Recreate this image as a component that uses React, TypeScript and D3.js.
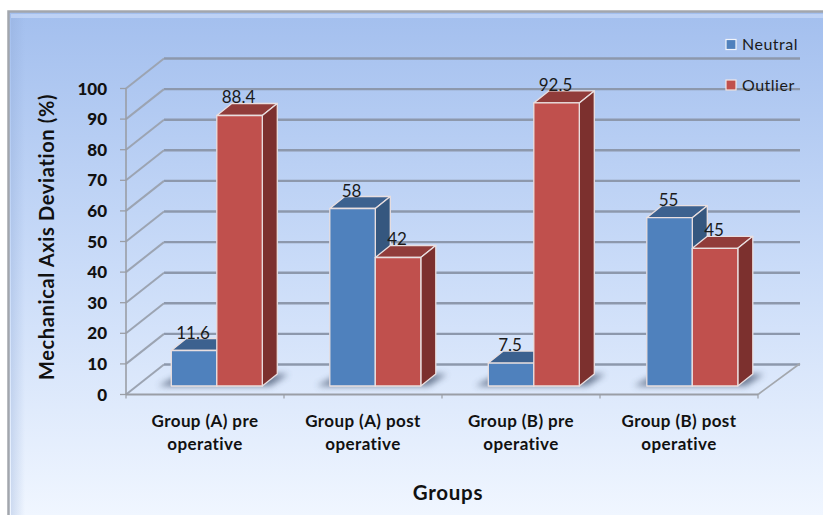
import React from "react";
import * as d3 from "d3";

const categories = ["Group (A) pre|operative", "Group (A) post|operative", "Group (B) pre|operative", "Group (B) post|operative"];
const neutralValues = [11.6, 58, 7.5, 55];
const outlierValues = [88.4, 42, 92.5, 45];
const neutralLabels = ["11.6", "58", "7.5", "55"];
const outlierLabels = ["88.4", "42", "92.5", "45"];
const yTicks = [0, 10, 20, 30, 40, 50, 60, 70, 80, 90, 100];

const font = "Lato, 'Open Sans', sans-serif";
const W = 823, H = 515;
const axisLeft = 126, axisRight = 758, axisBase = 394.5, axisTop = 88.5;
const dx = 38, dy = -30;
const barDx = 15, barDy = -12;
const barBase = 386, barWidth = 45.5, barInset = 45.5;

const y = d3.scaleLinear().domain([0, 100]).range([axisBase, axisTop]);
const barH = d3.scaleLinear().domain([0, 100]).range([0, 306]);
const x = d3.scaleBand<string>().domain(categories).range([axisLeft, axisRight]);
const xBars = d3.scaleBand<string>().domain(categories).range([axisLeft - 0.2, axisRight + 1.8]);

const poly = (pts: [number, number][]) => d3.line()(pts) + "Z";

function Bar({ x0, v, front, top, side }: { x0: number; v: number; front: string; top: string; side: string }) {
  const h = barH(v);
  const t = barBase - h;
  const x1 = x0 + barWidth;
  const edge = "#e9dfe0";
  return (
    <g stroke={edge} strokeWidth={1.3} strokeLinejoin="round">
      <path d={poly([[x0, t], [x0 + barDx, t + barDy], [x1 + barDx, t + barDy], [x1, t]])} fill={top} />
      <path d={poly([[x1, t], [x1 + barDx, t + barDy], [x1 + barDx, barBase + barDy], [x1, barBase]])} fill={side} />
      <rect x={x0} y={t} width={barWidth} height={h} fill={front} />
    </g>
  );
}

export default function App() {
  return (
    <svg width={W} height={H} viewBox={`0 0 ${W} ${H}`} style={{ position: "absolute", left: 0, top: 0, display: "block" }} fontFamily={font}>
      <defs>
        <linearGradient id="bg" x1="0" y1="0" x2="0" y2="1">
          <stop offset="0" stopColor="#a3bfee" />
          <stop offset="0.5" stopColor="#c9dbf8" />
          <stop offset="1" stopColor="#f0f6ff" />
        </linearGradient>
        <linearGradient id="leftEdge" x1="0" y1="0" x2="1" y2="0">
          <stop offset="0" stopColor="#8fa9d6" stopOpacity="0.35" />
          <stop offset="1" stopColor="#8fa9d6" stopOpacity="0" />
        </linearGradient>
        <filter id="blur" x="-20%" y="-100%" width="140%" height="300%"><feGaussianBlur stdDeviation="3" /></filter>
      </defs>
      <rect x={8} y={11} width={W - 8} height={H - 11} fill="url(#bg)" />
      <rect x={11} y={14} width={14} height={H - 14} fill="url(#leftEdge)" />
      <rect x={11} y={14} width={W - 11} height={4} fill="#c3d6f6" opacity={0.8} />
      <path d={`M8.5 ${H}V11.5H${W}`} fill="none" stroke="#a2a6ad" strokeWidth={2.5} />

      {/* back wall gridlines */}
      <g>
        {yTicks.map((t) => (
          <line key={t} x1={axisLeft + dx} x2={800} y1={y(t) + dy} y2={y(t) + dy} stroke="#8d98ac" strokeWidth={2.4} />
        ))}
        {yTicks.map((t) => (
          <line key={t} x1={axisLeft} x2={axisLeft + dx} y1={y(t)} y2={y(t) + dy} stroke="#9ca4b2" strokeWidth={2} />
        ))}
      </g>
      {/* floor */}
      <line x1={axisRight} x2={800} y1={axisBase} y2={axisBase + dy - 1} stroke="#a3a7ad" strokeWidth={1.6} />
      <line x1={axisLeft} x2={axisRight} y1={axisBase} y2={axisBase} stroke="#9a9ea6" strokeWidth={2} />
      <line x1={axisLeft} x2={axisLeft} y1={axisTop} y2={axisBase} stroke="#9a9ea6" strokeWidth={1.6} />
      {yTicks.map((t) => (
        <line key={t} x1={axisLeft - 6} x2={axisLeft} y1={y(t)} y2={y(t)} stroke="#9a9ea6" strokeWidth={1.3} />
      ))}
      {[...categories.map((c) => x(c)!), axisRight].map((p, i) => (
        <line key={i} x1={p} x2={p} y1={axisBase} y2={axisBase + 4} stroke="#9a9ea6" strokeWidth={1.2} />
      ))}

      {categories.map((c, i) => {
        const b = xBars(c)! + barInset;
        return (
          <g key={c}>
            <path
              d={poly([[b - 13, barBase], [b + 6, barBase - 10], [b + 2 * barWidth + 26, barBase - 12], [b + 2 * barWidth + 8, barBase]])}
              fill="#41506a" opacity={0.7} filter="url(#blur)"
            />
            <Bar x0={b} v={neutralValues[i]} front="#4f81bd" top="#3c618f" side="#35577f" />
            <Bar x0={b + barWidth} v={outlierValues[i]} front="#c0504d" top="#913c3a" side="#7c302e" />
          </g>
        );
      })}

      {/* data labels */}
      <g fontSize={17} fill="#1a1a1a" textAnchor="middle">
        {categories.map((c, i) => {
          const b = xBars(c)! + barInset;
          return (
            <g key={c}>
              <text x={b + barWidth / 2 - 1} y={barBase - barH(neutralValues[i]) + barDy}>{neutralLabels[i]}</text>
              <text x={b + barWidth * 1.5 - 1} y={barBase - barH(outlierValues[i]) + barDy}>{outlierLabels[i]}</text>
            </g>
          );
        })}
      </g>

      {/* y tick labels */}
      <g fontSize={17} fontWeight={900} fill="#111" textAnchor="end">
        {yTicks.map((t) => (
          <text key={t} x={107} y={y(t) + 6}>{t}</text>
        ))}
      </g>

      {/* category labels */}
      <g fontSize={17} fontWeight={700} fill="#111" textAnchor="middle" letterSpacing={0.4}>
        {categories.map((c) => {
          const [a, b] = c.split("|");
          const cx = x(c)! + x.bandwidth() / 2;
          return (
            <g key={c}>
              <text x={cx} y={427}>{a}</text>
              <text x={cx} y={450}>{b}</text>
            </g>
          );
        })}
      </g>

      <text x={448} y={500} fontSize={20.5} fontWeight={700} fill="#111" textAnchor="middle" letterSpacing={0.7}>Groups</text>
      <text transform="translate(54,237) rotate(-90)" fontSize={20} fontWeight={700} fill="#111" textAnchor="middle" letterSpacing={0.65}>Mechanical Axis Deviation (%)</text>

      {/* legend */}
      <rect x={726} y={39.5} width={10} height={10} fill="#4f81bd" stroke="#f2f5fb" strokeWidth={1.2} />
      <text x={742} y={50} fontSize={16} fill="#1a1a1a" letterSpacing={0.5}>Neutral</text>
      <rect x={726} y={80} width={10} height={10} fill="#c0504d" stroke="#f2e6e6" strokeWidth={1.2} />
      <text x={742} y={91} fontSize={16} fill="#1a1a1a" letterSpacing={0.5}>Outlier</text>
    </svg>
  );
}
